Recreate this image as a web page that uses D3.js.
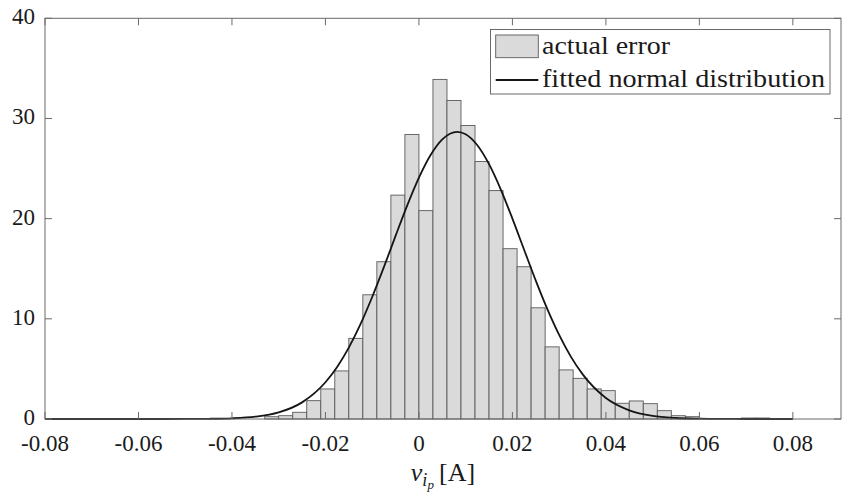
<!DOCTYPE html>
<html>
<head>
<meta charset="utf-8">
<script src="https://cdn.jsdelivr.net/npm/d3@7"></script>
<style>
  html, body { margin: 0; padding: 0; background: #fff; }
</style>
</head>
<body>
<div id="chart"></div>
<script>
// Histogram bins: lower edge of each bin and its density height
const binWidth = 0.003;
const binStarts = [
  -0.033, -0.030, -0.027, -0.024, -0.021, -0.018, -0.015, -0.012, -0.009, -0.006, -0.003,
  0.000, 0.003, 0.006, 0.009, 0.012, 0.015, 0.018, 0.021, 0.024, 0.027, 0.030,
  0.033, 0.036, 0.039, 0.042, 0.045, 0.048, 0.051, 0.054, 0.057, 0.060, 0.063, 0.066, 0.069, 0.072
];
const density = [
  0.23, 0.33, 0.67, 1.83, 3.0, 4.8, 8.05, 12.4, 15.7, 22.35, 28.4,
  20.8, 33.9, 31.8, 29.3, 25.7, 22.8, 17.0, 15.2, 11.1, 7.2, 4.9,
  4.06, 3.0, 2.83, 1.57, 1.8, 1.53, 0.83, 0.33, 0.23, 0, 0, 0, 0.1, 0.1
];

// Fitted normal curve
const curveX = [
  -0.08, -0.06, -0.05, -0.045, -0.04, -0.035, -0.03, -0.025, -0.02, -0.0175, -0.015, -0.0125,
  -0.01, -0.0075, -0.005, -0.0025, 0, 0.0025, 0.005, 0.0082, 0.01, 0.0125, 0.015, 0.0175,
  0.02, 0.0225, 0.025, 0.0275, 0.03, 0.0325, 0.035, 0.04, 0.045, 0.05, 0.055, 0.06, 0.065, 0.07, 0.08
];
const curveY = [
  0, 0, 0.005, 0.02, 0.07, 0.23, 0.66, 1.66, 3.67, 5.2, 7.13, 9.47,
  12.18, 15.16, 18.28, 21.33, 24.1, 26.36, 27.92, 28.67, 28.43, 27.33, 25.44, 22.93,
  20.0, 16.9, 13.82, 10.95, 8.40, 6.23, 4.48, 2.10, 0.87, 0.31, 0.10, 0.03, 0.007, 0.001, 0
];

const xTicks = [-0.08, -0.06, -0.04, -0.02, 0, 0.02, 0.04, 0.06, 0.08];
const xTickLabels = ["-0.08", "-0.06", "-0.04", "-0.02", "0", "0.02", "0.04", "0.06", "0.08"];
const yTicks = [0, 10, 20, 30, 40];
const legendLabels = ["actual error", "fitted normal distribution"];

const W = 845, H = 494;
const margin = { top: 18.3, right: 4, bottom: 75, left: 45 };
const serif = "'Liberation Serif', 'Times New Roman', Times, 'DejaVu Serif', serif";

const svg = d3.select("#chart").append("svg")
  .attr("width", W)
  .attr("height", H)
  .attr("font-family", serif);

const x = d3.scaleLinear()
  .domain([-0.08, 0.0903])
  .range([margin.left, W - margin.right]);
const y = d3.scaleLinear()
  .domain([0, 40])
  .range([H - margin.bottom, margin.top]);

const axisColor = "#6a6a6a";

// bars
svg.append("g")
  .selectAll("rect")
  .data(binStarts.map((b, i) => ({ b, v: density[i] })).filter(d => d.v > 0))
  .enter()
  .append("rect")
  .attr("x", d => x(d.b))
  .attr("y", d => y(d.v))
  .attr("width", d => x(d.b + binWidth) - x(d.b))
  .attr("height", d => y(0) - y(d.v))
  .attr("fill", "#dadada")
  .attr("stroke", "#5a5a5a")
  .attr("stroke-width", 0.9);

// fitted curve
const line = d3.line()
  .x(d => x(d[0]))
  .y(d => y(d[1]))
  .curve(d3.curveMonotoneX);

svg.append("path")
  .datum(curveX.map((cx, i) => [cx, curveY[i]]))
  .attr("d", line)
  .attr("fill", "none")
  .attr("stroke", "#151515")
  .attr("stroke-width", 1.8);

// box
const [x0, x1] = x.range();
const [yb, yt] = y.range();
svg.append("rect")
  .attr("x", x0).attr("y", yt)
  .attr("width", x1 - x0).attr("height", yb - yt)
  .attr("fill", "none")
  .attr("stroke", axisColor)
  .attr("stroke-width", 1);

// ticks (inward, top/bottom, left/right)
const tickLen = 7;
const tg = svg.append("g").attr("stroke", axisColor).attr("stroke-width", 1);
xTicks.forEach(t => {
  tg.append("line").attr("x1", x(t)).attr("x2", x(t)).attr("y1", yb).attr("y2", yb - tickLen);
  tg.append("line").attr("x1", x(t)).attr("x2", x(t)).attr("y1", yt).attr("y2", yt + tickLen);
});
yTicks.forEach(t => {
  tg.append("line").attr("x1", x0).attr("x2", x0 + tickLen).attr("y1", y(t)).attr("y2", y(t));
  tg.append("line").attr("x1", x1).attr("x2", x1 - tickLen).attr("y1", y(t)).attr("y2", y(t));
});

// tick labels
svg.append("g")
  .selectAll("text")
  .data(xTicks)
  .enter()
  .append("text")
  .attr("x", d => x(d))
  .attr("y", yb + 32)
  .attr("text-anchor", "middle")
  .attr("font-size", 23)
  .attr("fill", "#1a1a1a")
  .text((d, i) => xTickLabels[i]);

svg.append("g")
  .selectAll("text")
  .data(yTicks)
  .enter()
  .append("text")
  .attr("x", x0 - 10)
  .attr("y", d => y(d) + 6)
  .attr("text-anchor", "end")
  .attr("font-size", 23)
  .attr("fill", "#1a1a1a")
  .text(d => d);

// x label: v_{i_p} [A]
const xl = svg.append("text")
  .attr("x", (x0 + x1) / 2)
  .attr("y", 481)
  .attr("text-anchor", "middle")
  .attr("font-size", 26)
  .attr("fill", "#1a1a1a");
xl.append("tspan").attr("font-style", "italic").text("v");
xl.append("tspan").attr("font-style", "italic").attr("font-size", 18).attr("dy", 5).text("i");
xl.append("tspan").attr("font-style", "italic").attr("font-size", 13).attr("dy", 3).text("p");
xl.append("tspan").attr("dy", -8).text("\u2009[A]");

// legend
const lg = svg.append("g");
lg.append("rect")
  .attr("x", 490.5).attr("y", 29.5)
  .attr("width", 339.5).attr("height", 64.5)
  .attr("fill", "#fff")
  .attr("stroke", axisColor)
  .attr("stroke-width", 1);
lg.append("rect")
  .attr("x", 495.7).attr("y", 35)
  .attr("width", 42.6).attr("height", 22.7)
  .attr("fill", "#dadada")
  .attr("stroke", "#5a5a5a")
  .attr("stroke-width", 0.9);
lg.append("line")
  .attr("x1", 495.7).attr("x2", 538.3)
  .attr("y1", 80).attr("y2", 80)
  .attr("stroke", "#151515")
  .attr("stroke-width", 1.8);
lg.append("text")
  .attr("x", 542).attr("y", 54)
  .attr("font-size", 25)
  .attr("fill", "#1a1a1a")
  .attr("textLength", 128)
  .attr("lengthAdjust", "spacingAndGlyphs")
  .text(legendLabels[0]);
lg.append("text")
  .attr("x", 542).attr("y", 87)
  .attr("font-size", 25)
  .attr("fill", "#1a1a1a")
  .attr("textLength", 283)
  .attr("lengthAdjust", "spacingAndGlyphs")
  .text(legendLabels[1]);
</script>
</body>
</html>
